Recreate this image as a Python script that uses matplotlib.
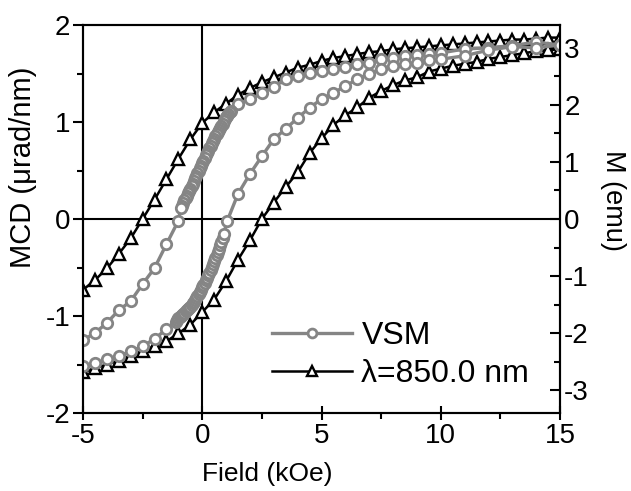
import matplotlib
matplotlib.use("Agg")
import matplotlib.pyplot as plt
from matplotlib.ticker import MultipleLocator

plt.rcParams['font.family'] = ['Liberation Sans', 'DejaVu Sans']

# ---- MCD (lambda = 850.0 nm), left axis ----
mcd_down_field = [15, 14.5, 14, 13.5, 13, 12.5, 12, 11.5, 11, 10.5, 10, 9.5, 9, 8.5, 8,
                  7.5, 7, 6.5, 6, 5.5, 5, 4.5, 4, 3.5, 3, 2.5, 2, 1.5, 1, 0.5, 0,
                  -0.5, -1, -1.5, -2, -2.5, -3, -3.5, -4, -4.5, -5]
mcd_down_val = [1.87, 1.87, 1.86, 1.85, 1.85, 1.84, 1.83, 1.82, 1.81, 1.80, 1.79, 1.78,
                1.77, 1.76, 1.75, 1.73, 1.72, 1.70, 1.68, 1.66, 1.63, 1.59, 1.56, 1.51,
                1.46, 1.41, 1.35, 1.28, 1.19, 1.10, 0.99, 0.82, 0.62, 0.41, 0.20, 0.00,
                -0.20, -0.36, -0.51, -0.63, -0.73]
mcd_up_field = [-5, -4.5, -4, -3.5, -3, -2.5, -2, -1.5, -1, -0.5, 0, 0.5, 1, 1.5, 2, 2.5,
                3, 3.5, 4, 4.5, 5, 5.5, 6, 6.5, 7, 7.5, 8, 8.5, 9, 9.5, 10, 10.5, 11,
                11.5, 12, 12.5, 13, 13.5, 14, 14.5, 15]
mcd_up_val = [-1.58, -1.54, -1.50, -1.46, -1.41, -1.36, -1.31, -1.26, -1.18, -1.09, -0.96,
              -0.83, -0.64, -0.42, -0.22, 0.00, 0.17, 0.33, 0.48, 0.68, 0.83, 0.97, 1.07,
              1.15, 1.25, 1.32, 1.38, 1.43, 1.46, 1.52, 1.55, 1.58, 1.60, 1.62, 1.65,
              1.67, 1.69, 1.71, 1.73, 1.74, 1.75]

# ---- VSM, right axis (emu) ----
vsm_down_field = [15, 14, 13, 12, 11, 10, 9.5, 9, 8.5, 8, 7.5, 7, 6.5, 6, 5.5, 5, 4.5, 4,
                  3.5, 3, 2.5, 2, 1.5,
                  1.2, 1.15, 1.1, 1.05, 1.0, 0.95, 0.9, 0.85, 0.8, 0.75, 0.7, 0.65, 0.6,
                  0.55, 0.5, 0.45, 0.4, 0.35, 0.3, 0.25, 0.2, 0.15, 0.1, 0.05, 0.0,
                  -0.05, -0.1, -0.15, -0.2, -0.25, -0.3, -0.35, -0.4, -0.45, -0.5, -0.55,
                  -0.6, -0.65, -0.7, -0.75, -0.8, -0.85, -0.9,
                  -1.0, -1.5, -2.0, -2.5, -3.0, -3.5, -4.0, -4.5, -5.0]
vsm_down_val = [3.05, 3.10, 3.04, 3.00, 2.98, 2.91, 2.90, 2.88, 2.86, 2.82, 2.80, 2.74,
                2.72, 2.66, 2.63, 2.60, 2.56, 2.50, 2.46, 2.32, 2.20, 2.10, 2.02,
                1.90, 1.87, 1.84, 1.81, 1.78, 1.745, 1.71, 1.67, 1.63, 1.595, 1.56, 1.525,
                1.49, 1.45, 1.41, 1.37, 1.33, 1.285, 1.24, 1.20, 1.16, 1.115, 1.07, 1.025,
                0.98, 0.935, 0.89, 0.845, 0.80, 0.755, 0.71, 0.665, 0.62, 0.575, 0.53,
                0.49, 0.45, 0.41, 0.37, 0.325, 0.28, 0.235, 0.19,
                -0.03, -0.44, -0.86, -1.14, -1.44, -1.60, -1.82, -2.00, -2.12]
vsm_up_field = [-5.0, -4.5, -4.0, -3.5, -3.0, -2.5, -2.0, -1.5,
                -1.1, -1.05, -1.0, -0.95, -0.9, -0.85, -0.8, -0.75, -0.7, -0.65, -0.6,
                -0.55, -0.5, -0.45, -0.4, -0.35, -0.3, -0.25, -0.2, -0.15, -0.1, -0.05,
                0.0, 0.05, 0.1, 0.15, 0.2, 0.25, 0.3, 0.35, 0.4, 0.45, 0.5, 0.55, 0.6,
                0.65, 0.7, 0.75, 0.8, 0.85, 0.9,
                1.05, 1.5, 2.0, 2.5, 3.0, 3.5, 4.0, 4.5, 5.0, 5.5, 6.0, 6.5, 7.0, 7.5,
                8.0, 8.5, 9.0, 9.5, 10, 11, 12, 13, 14, 15]
vsm_up_val = [-2.58, -2.53, -2.46, -2.40, -2.32, -2.23, -2.10, -1.93,
              -1.80, -1.77, -1.74, -1.72, -1.70, -1.68, -1.66, -1.64, -1.62, -1.60, -1.58,
              -1.56, -1.54, -1.51, -1.48, -1.45, -1.42, -1.385, -1.35, -1.315, -1.28,
              -1.24, -1.20, -1.16, -1.12, -1.075, -1.03, -0.985, -0.94, -0.89, -0.84,
              -0.79, -0.74, -0.685, -0.63, -0.575, -0.52, -0.46, -0.40, -0.33, -0.26,
              -0.03, 0.44, 0.79, 1.10, 1.40, 1.58, 1.77, 1.95, 2.10, 2.21, 2.33, 2.45,
              2.55, 2.63, 2.68, 2.72, 2.74, 2.78, 2.80, 2.86, 2.96, 3.02, 3.00, 3.05]

x_ticks = [-5, 0, 5, 10, 15]
left_ticks = [-2, -1, 0, 1, 2]
right_ticks = [-3, -2, -1, 0, 1, 2, 3]

W, H = 631, 491
fig = plt.figure(figsize=(W / 100, H / 100), dpi=100)
ax = fig.add_axes([83 / W, 1 - 413 / H, (560 - 83) / W, (413 - 25) / H])
ax2 = ax.twinx()

gray = '#858585'
fs = 20

ax.axhline(0, color='black', lw=1.5, zorder=0)
ax.axvline(0, color='black', lw=1.5, zorder=0)

tri_kw = dict(color='black', lw=1.8, marker='^', ms=9, mfc='white', mec='black', mew=1.7)
l_tri, = ax.plot(mcd_down_field, mcd_down_val, label='λ=850.0 nm', **tri_kw)
ax.plot(mcd_up_field, mcd_up_val, **tri_kw)

c_kw = dict(color=gray, lw=2.4, marker='o', ms=7.5, mfc='white', mec=gray, mew=2.0)
l_vsm, = ax2.plot(vsm_down_field, vsm_down_val, label='VSM', **c_kw)
ax2.plot(vsm_up_field, vsm_up_val, **c_kw)

ax.set_xlim(-5, 15)
ax.set_ylim(-2, 2)
ax2.set_ylim(-3.4, 3.4)

ax.set_xticks(x_ticks)
ax.set_xticklabels([str(t) for t in x_ticks])
ax.xaxis.set_minor_locator(MultipleLocator(2.5))
ax.set_yticks(left_ticks)
ax.set_yticklabels([str(t) for t in left_ticks])
ax.yaxis.set_minor_locator(MultipleLocator(0.5))
ax2.set_yticks(right_ticks)
ax2.set_yticklabels([str(t) for t in right_ticks])
ax2.yaxis.set_minor_locator(MultipleLocator(0.5))

ax.tick_params(axis='x', which='major', direction='inout', length=10, width=1.5,
               labelsize=fs, pad=2)
ax.tick_params(axis='x', which='minor', direction='out', length=4, width=1.5)
ax.tick_params(axis='y', which='major', direction='out', length=7, width=1.5,
               labelsize=fs, pad=2)
ax.tick_params(axis='y', which='minor', direction='out', length=4, width=1.5)
ax2.tick_params(axis='y', which='major', direction='in', length=7, width=1.5,
                labelsize=fs, pad=3)
ax2.tick_params(axis='y', which='minor', direction='in', length=4, width=1.5)

for a in (ax, ax2):
    for s in a.spines.values():
        s.set_linewidth(1.5)

ax.set_xlabel('Field (kOe)', fontsize=19)
ax.xaxis.set_label_coords((267 - 83) / (560 - 83), -0.125)
ax.set_ylabel('MCD (μrad/nm)', fontsize=21)
ax.yaxis.set_label_coords((37 - 83) / (560 - 83), (413 - 167) / (413 - 25))
ax2.set_ylabel('M (emu)', fontsize=19.5, rotation=270, va='bottom')
ax2.yaxis.set_label_coords((600 - 83) / (560 - 83), (413 - 200) / (413 - 25))

leg = ax2.legend([l_vsm, l_tri], ['VSM', 'λ=850.0 nm'], loc='center left',
                 bbox_to_anchor=(272 / W, 1 - 355 / H), bbox_transform=fig.transFigure,
                 frameon=False, fontsize=23, handlelength=2.5, handletextpad=0.3,
                 labelspacing=0.25, borderpad=0, borderaxespad=0, markerscale=0.85)

fig.savefig('out.png', dpi=100)
